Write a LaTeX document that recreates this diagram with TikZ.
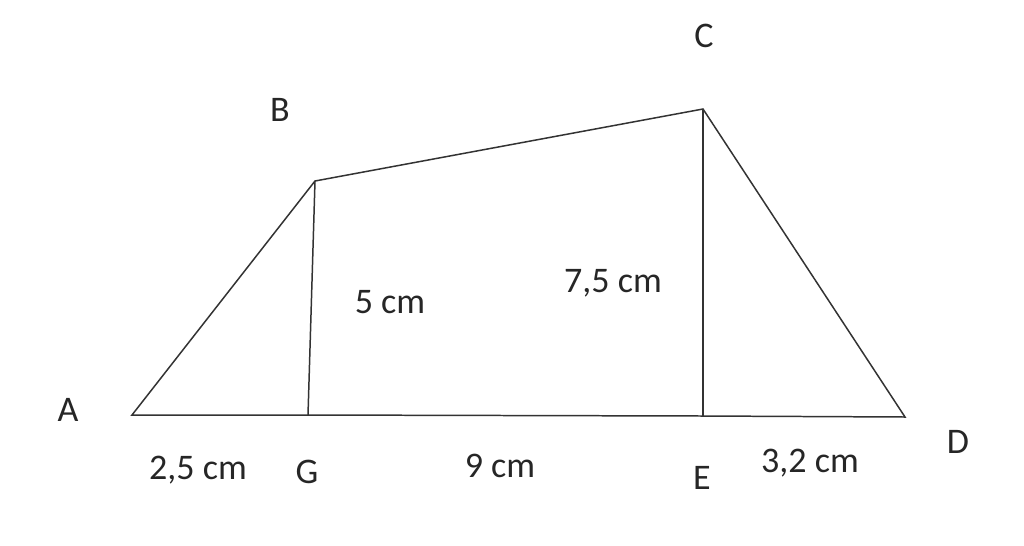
\documentclass[tikz,border=0pt]{standalone}
\usepackage{fontspec}
\setmainfont{Carlito}
\tikzset{
  side/.style={draw=black!80, line width=0.85pt},
  lbl/.style={font=\fontsize{20.5}{23}\selectfont, text=black!85, inner sep=0pt}
}
\begin{document}
\begin{tikzpicture}[x=0.02cm, y=-0.02cm]
  \useasboundingbox (0,0) rectangle (1024,545);
  \begin{scope}
    \coordinate (A) at (132,415);
    \coordinate (G) at (308,415);
    \coordinate (E) at (703,416);
    \coordinate (D) at (905,417);
    \coordinate (B) at (315,181);
    \coordinate (C) at (703,109);

    \draw[side] (A) -- (B) -- (C) -- (D) -- (E) -- (G) -- cycle;
    \draw[side] (B) -- (G);
    \draw[side] (C) -- (E);

    \node[lbl] (nA) at (68,410) {A};
    \node[lbl] (nB) at (280,110) {B};
    \node[lbl] (nC) at (704,36) {C};
    \node[lbl] (nD) at (958,442) {D};
    \node[lbl] (nG) at (307,472) {G};
    \node[lbl] (nE) at (702,478) {E};

    \node[lbl] (AG) at (198,470) {2,5 cm};
    \node[lbl] (GE) at (500,466) {9 cm};
    \node[lbl] (ED) at (810,463) {3,2 cm};
    \node[lbl] (BG) at (390,302) {5 cm};
    \node[lbl] (CE) at (613,283) {7,5 cm};
  \end{scope}
\end{tikzpicture}
\end{document}
